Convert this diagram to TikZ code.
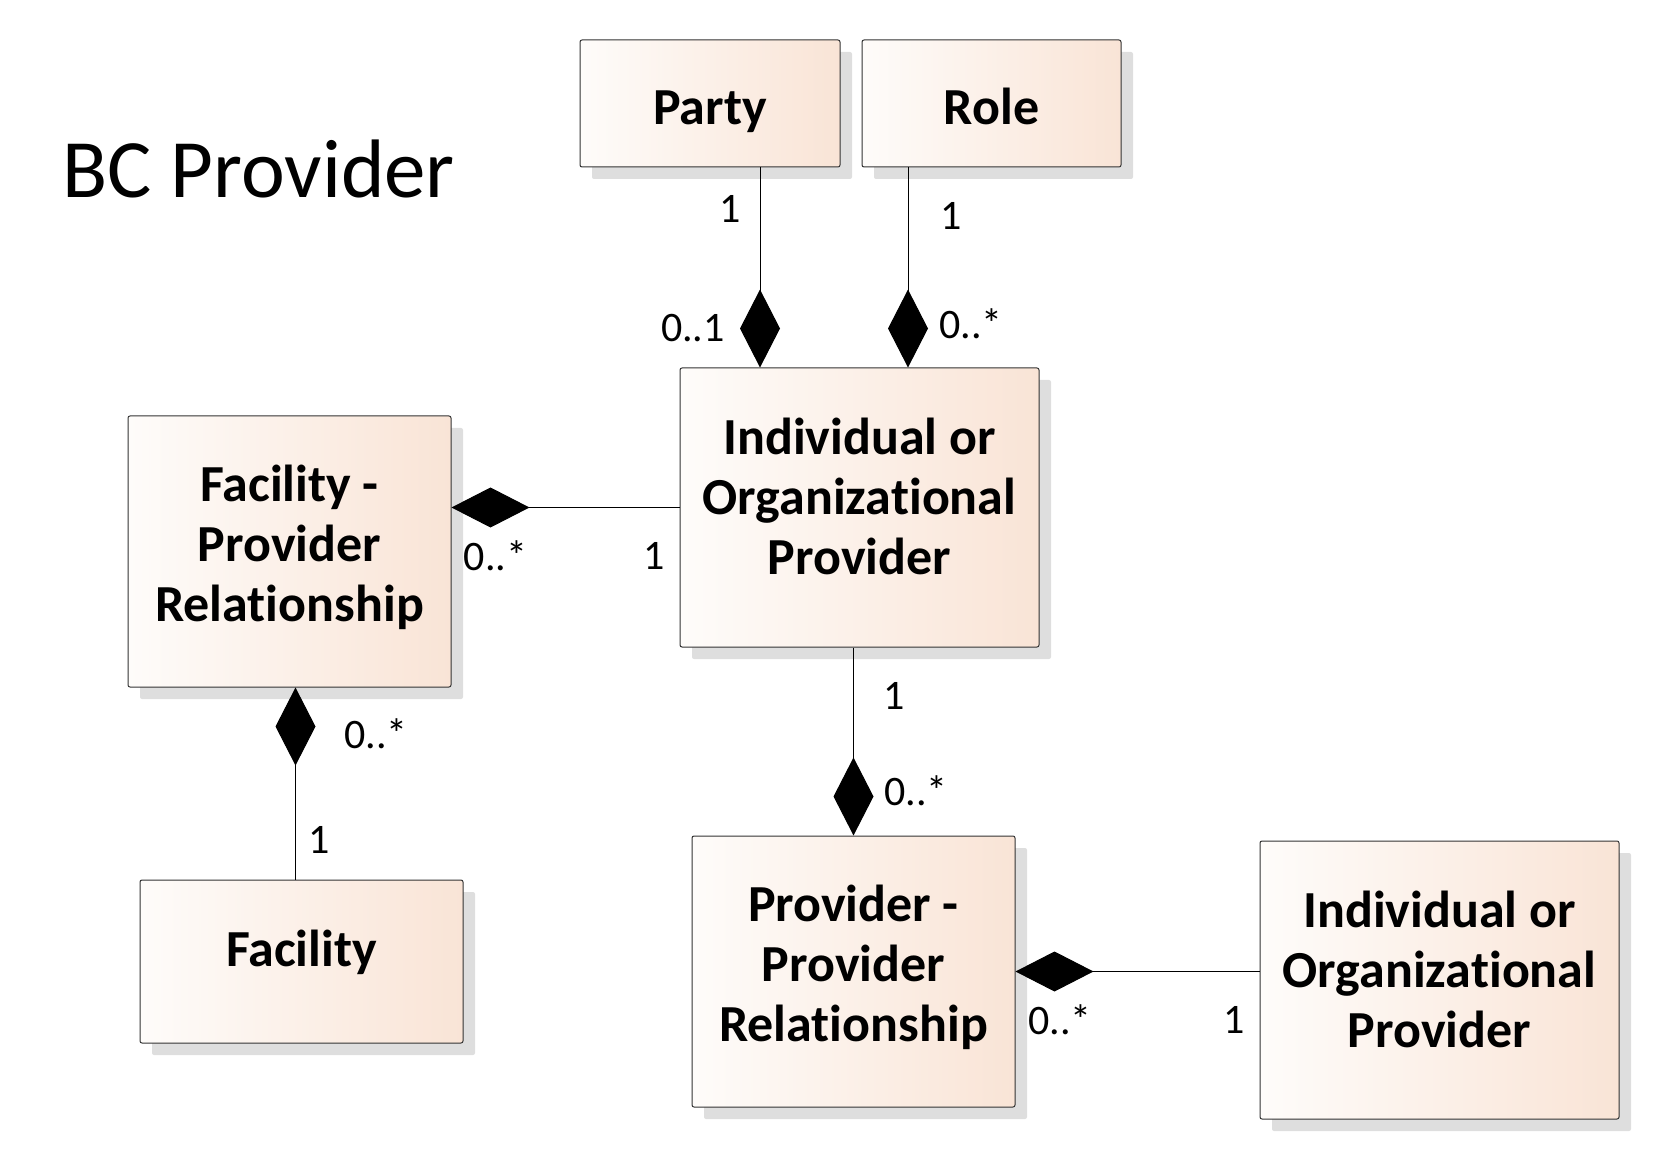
\documentclass[tikz,border=0pt]{standalone}
\usepackage{fontspec}
\setmainfont{Carlito}[Ligatures=CommonOff]
\usetikzlibrary{arrows.meta, positioning, shadows}
\definecolor{clsleft}{RGB}{254,252,250}
\definecolor{clsright}{RGB}{249,228,214}
\definecolor{clsshadow}{RGB}{222,222,222}

\begin{document}
\begin{tikzpicture}[
    x=0.5pt, y=-0.5pt,
    cls/.style={rectangle, rounded corners=1pt, draw=black!80, line width=0.5pt, left color=clsleft, right color=clsright, drop shadow={shadow xshift=6pt, shadow yshift=-6pt, fill=clsshadow, opacity=1}, align=center, inner sep=0pt, font=\fontsize{26}{30}\selectfont\bfseries},
    comp/.style={-{Diamond[length=39pt, width=20pt]}, line width=0.5pt},
    mult/.style={inner sep=0pt, font=\fontsize{21}{24}\selectfont}
]
\useasboundingbox (0,0) rectangle (1660,1160);

% Title
\node[anchor=base west, inner sep=0pt, font=\fontsize{41.5}{48}\selectfont] (title) at (62,198) {BC Provider};

% Classes
\node[cls, minimum width=130pt, minimum height=63.5pt, text height=26.2pt, text depth=5.2pt] (party) at (710,103.5) {Party};
\node[cls, minimum width=129.5pt, minimum height=63.5pt, text height=26.2pt, text depth=5.2pt, right=10.5pt of party] (role) {Role};
\node[cls, minimum width=179.5pt, minimum height=139.5pt, text depth=11pt] (iop) at (859.5,507.5) {Individual or\\Organizational\\Provider};
\node[cls, minimum width=161.5pt, minimum height=135.5pt, text depth=8pt] (fpr) at (289.5,551.5) {Facility -\\Provider\\Relationship};
\node[cls, minimum width=161.5pt, minimum height=81.5pt, text height=18pt, text depth=12.9pt] (facility) at (301.5,961.5) {Facility};
\node[cls, minimum width=161.5pt, minimum height=135.5pt, text depth=8pt] (ppr) at (853.5,971.5) {Provider -\\Provider\\Relationship};
\node[cls, minimum width=179.5pt, minimum height=139pt, text depth=11pt] (iop2) at (1439.5,980) {Individual or\\Organizational\\Provider};

% Compositions
\draw[comp] ([xshift=25pt]party.south) -- ([xshift=25pt]party.south |- iop.north);
\draw[comp] ([xshift=-41.75pt]role.south) -- ([xshift=-41.75pt]role.south |- iop.north);
\draw[comp] (iop.west) -- (iop.west -| fpr.east);
\draw[comp] ([xshift=3pt]fpr.south |- facility.north) -- ([xshift=3pt]fpr.south);
\draw[comp] (iop.south -| ppr.north) -- (ppr.north);
\draw[comp] (iop2.west |- ppr.east) -- (ppr.east);

% Multiplicities
\node[mult] (m1) at (730.5,208.5) {1};
\node[mult] (m2) at (693,328) {0..1};
\node[mult] (m3) at (951,216) {1};
\node[mult] (m4) at (971,324) {0..*};
\node[mult] (m5) at (495.5,556) {0..*};
\node[mult] (m6) at (654,556) {1};
\node[mult] (m7) at (376,734) {0..*};
\node[mult] (m8) at (319,840) {1};
\node[mult] (m9) at (894.5,695.5) {1};
\node[mult] (m10) at (916,791) {0..*};
\node[mult] (m11) at (1060,1019.5) {0..*};
\node[mult] (m12) at (1234.5,1019.5) {1};
\end{tikzpicture}
\end{document}
